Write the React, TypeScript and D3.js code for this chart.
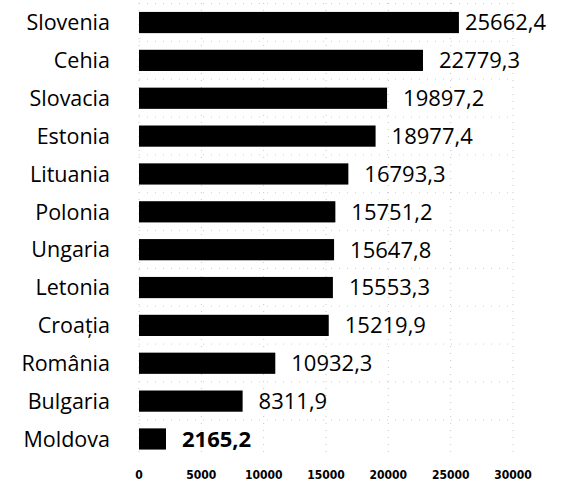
import React from "react";
import * as d3 from "d3";

const countries = ["Slovenia", "Cehia", "Slovacia", "Estonia", "Lituania", "Polonia", "Ungaria", "Letonia", "Croația", "România", "Bulgaria", "Moldova"];
const values = [25662.4, 22779.3, 19897.2, 18977.4, 16793.3, 15751.2, 15647.8, 15553.3, 15219.9, 10932.3, 8311.9, 2165.2];
const ticks = [0, 5000, 10000, 15000, 20000, 25000, 30000];

const W = 563, H = 485;
const fmt = (v: number) => v.toFixed(1).replace(".", ",");

export default function App() {
  const x = d3.scaleLinear().domain([0, 30000]).range([139, 513]);
  const y = d3.scaleBand<string>().domain(countries).range([3.6, 457.9]).paddingInner(0.44).paddingOuter(0.22);
  const font = "'Open Sans', sans-serif";
  const bw = y.bandwidth();
  return (
    <svg width={W} height={H} style={{ position: "absolute", left: 0, top: 0, background: "#fff" }}>
      {ticks.map((t) => (
        <line key={"g" + t} x1={x(t)} x2={x(t)} y1={3} y2={455} stroke="#c8c8c8" strokeWidth={1} strokeDasharray="1 6" />
      ))}
      {countries.map((c) => (
        <line key={"h" + c} x1={x(0)} x2={x(30000)} y1={(y(c) as number) - 8.5} y2={(y(c) as number) - 8.5} stroke="#cfcfcf" strokeWidth={1} strokeDasharray="1 7" />
      ))}
      {countries.map((c, i) => {
        const yy = y(c) as number;
        const cy = yy + bw / 2;
        const last = i === countries.length - 1;
        return (
          <g key={c}>
            <rect x={x(0)} y={yy} width={x(values[i]) - x(0)} height={bw} fill="#000" />
            <text x={110} y={cy} dy="0.36em" textAnchor="end" fontFamily={font} fontSize={21.5} fill="#000">{c}</text>
            <text x={x(values[i]) + (i === 0 ? 6 : 16)} y={cy} dy="0.36em" fontFamily={font} fontSize={22} fontWeight={last ? 700 : 400} fill="#000">{fmt(values[i])}</text>
          </g>
        );
      })}
      {ticks.map((t) => (
        <text key={"t" + t} x={x(t)} y={475} dy="0.35em" textAnchor="middle" fontFamily="'Liberation Sans Narrow', 'DejaVu Sans Condensed', sans-serif" fontSize={12} fontWeight={700} fill="#000">{t}</text>
      ))}
    </svg>
  );
}
